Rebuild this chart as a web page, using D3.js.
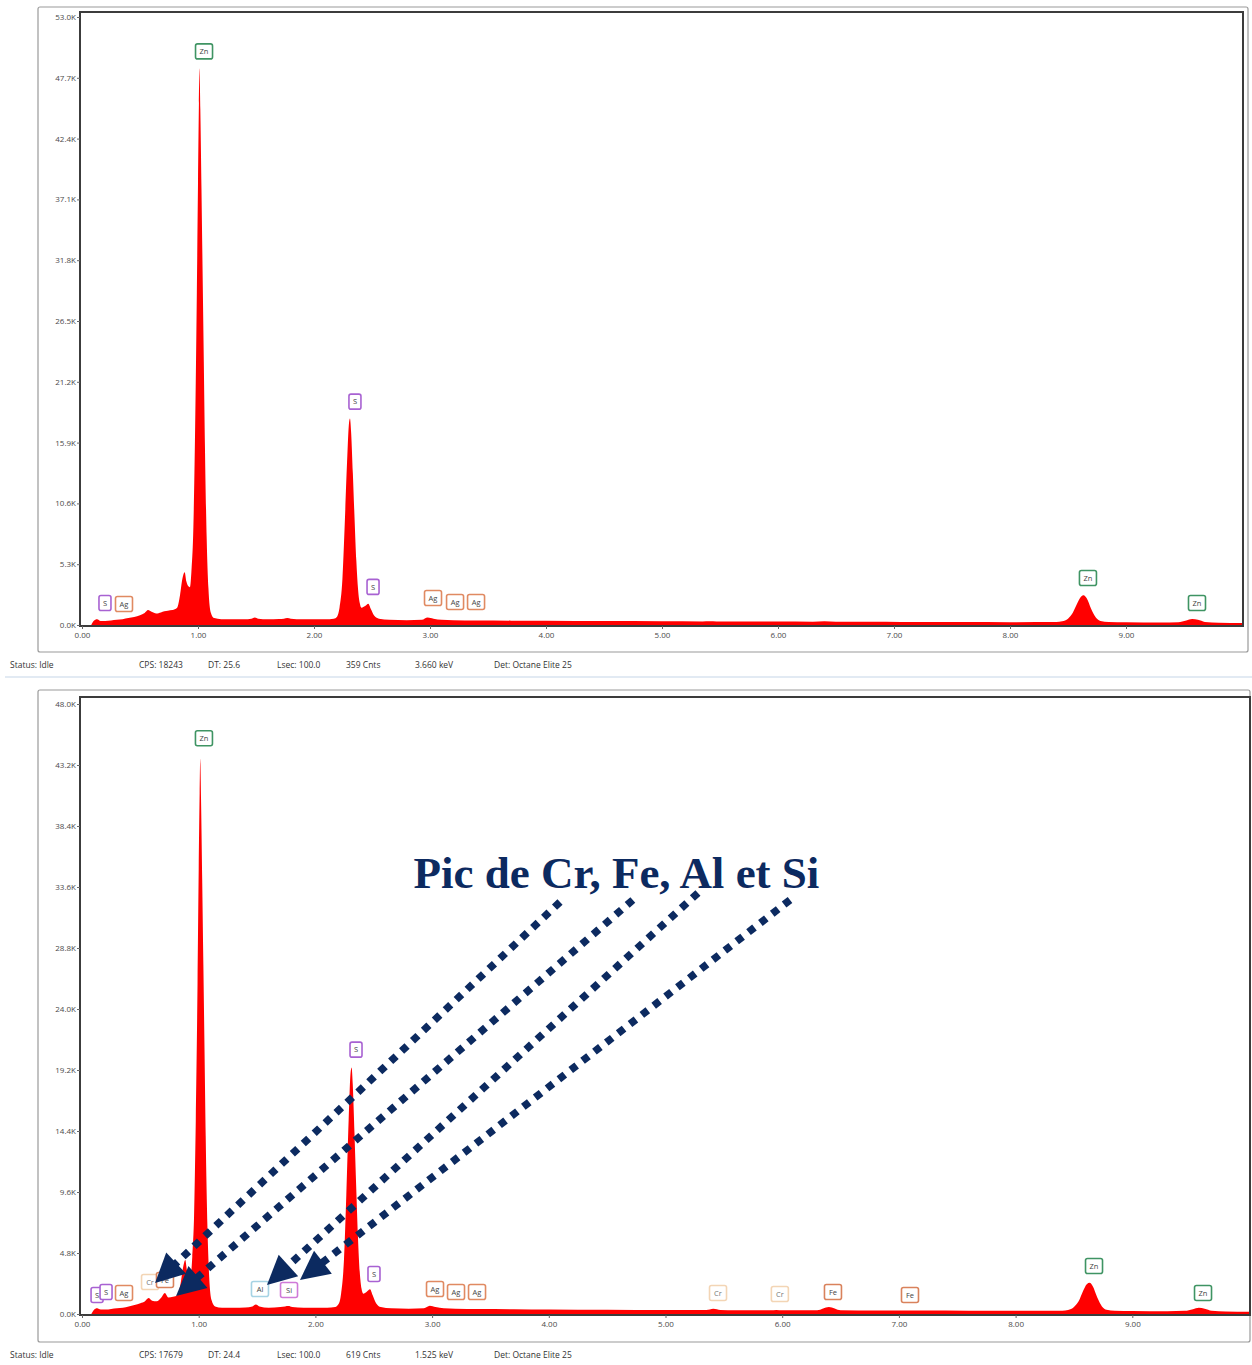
<!DOCTYPE html>
<html><head><meta charset="utf-8">
<script src="https://cdn.jsdelivr.net/npm/d3@7"></script>
<style>body{margin:0;background:#fff} svg text{font-family:"Open Sans","DejaVu Sans",sans-serif}</style>
</head><body><svg id="c" width="1252" height="1365"></svg>
<script>
// ---- DATA ----
const energies = [0.08,0.10,0.13,0.16,0.20,0.25,0.30,0.35,0.40,0.45,0.50,0.54,0.57,0.60,0.64,0.68,0.71,0.74,0.78,0.82,
0.845,0.865,0.885,0.90,0.915,0.93,0.945,0.96,0.975,0.99,1.00,1.008,1.013,1.02,1.03,1.04,1.05,1.06,1.075,1.09,
1.11,1.14,1.20,1.30,1.40,1.46,1.49,1.52,1.60,1.70,1.74,1.77,1.80,1.90,2.00,2.10,2.17,2.20,2.22,2.245,
2.265,2.285,2.30,2.31,2.32,2.335,2.35,2.365,2.38,2.395,2.41,2.44,2.468,2.49,2.52,2.56,2.65,2.80,2.93,2.98,
3.03,3.10,3.20,3.40,3.70,4.00,4.50,5.00,5.35,5.41,5.47,5.60,5.90,5.95,6.00,6.30,6.40,6.50,6.80,7.06,
7.20,7.60,8.00,8.40,8.45,8.50,8.54,8.58,8.61,8.635,8.66,8.70,8.74,8.78,8.85,9.00,9.30,9.45,9.52,9.57,
9.62,9.68,9.80,10.00];
const countsTop = [0,0.35,0.5,0.35,0.35,0.4,0.45,0.5,0.6,0.7,0.85,1.05,1.3,1.15,1.0,1.1,1.2,1.25,1.3,1.5,
2.6,4.0,4.6,3.8,3.4,3.3,5.0,8.5,17,29,38.5,45.5,48.5,45,38,30.5,23,15.5,7.5,3.2,
1.1,0.6,0.5,0.5,0.5,0.55,0.65,0.55,0.5,0.52,0.55,0.6,0.55,0.5,0.5,0.5,0.55,0.75,1.5,4.0,
8.8,14.2,17.4,18.0,16.8,13.2,9.2,5.6,3.1,1.9,1.5,1.65,1.85,1.4,0.8,0.55,0.45,0.42,0.45,0.65,
0.55,0.45,0.42,0.4,0.38,0.36,0.34,0.32,0.31,0.33,0.31,0.3,0.3,0.3,0.3,0.29,0.33,0.29,0.28,0.27,
0.27,0.26,0.25,0.26,0.32,0.55,1.05,1.9,2.45,2.6,2.35,1.4,0.65,0.35,0.26,0.24,0.22,0.25,0.4,0.52,
0.45,0.27,0.2,0.18];
const countsBottom = [0,0.3,0.45,0.35,0.35,0.4,0.45,0.5,0.6,0.7,0.85,1.0,1.25,1.05,1.0,1.3,1.65,1.3,1.35,1.5,
2.4,3.6,4.25,3.4,3.0,2.9,4.5,7.6,15.2,26,35,41,43.7,40.5,34.2,27.5,20.7,14,6.8,2.9,
1.1,0.6,0.5,0.5,0.52,0.6,0.75,0.6,0.5,0.55,0.6,0.62,0.55,0.5,0.5,0.5,0.55,0.8,1.6,4.3,
9.4,15.3,18.8,19.4,18.1,14.2,9.9,6.0,3.3,2.0,1.6,1.75,1.95,1.5,0.85,0.55,0.45,0.42,0.45,0.65,
0.55,0.45,0.42,0.4,0.38,0.36,0.34,0.32,0.32,0.42,0.32,0.3,0.3,0.32,0.3,0.3,0.55,0.3,0.28,0.28,
0.27,0.26,0.25,0.26,0.32,0.55,1.0,1.85,2.35,2.45,2.2,1.3,0.6,0.33,0.26,0.24,0.22,0.25,0.38,0.5,
0.42,0.26,0.2,0.18];
const xTicks = [0,1,2,3,4,5,6,7,8,9];
const yTicksTop = [0,5.3,10.6,15.9,21.2,26.5,31.8,37.1,42.4,47.7,53.0];
const yTicksBottom = [0,4.8,9.6,14.4,19.2,24.0,28.8,33.6,38.4,43.2,48.0];
// peak labels: element, energy (keV), height (K counts)
const labelsTopEl = ["Zn","S","S","S","Ag","Ag","Ag","Ag","Zn","Zn"];
const labelsTopE  = [1.052,2.353,2.509,0.198,0.362,3.026,3.216,3.397,8.672,9.612];
const labelsTopK  = [50.0,19.47,3.32,1.92,1.83,2.36,2.01,2.01,4.10,1.92];
const labelsBotEl = ["Zn","S","S","S","S","Ag","Cr","Fe","Al","Si","Ag","Ag","Ag","Cr","Cr","Fe","Fe","Zn","Zn"];
const labelsBotE  = [1.045,2.348,2.502,0.129,0.206,0.36,0.583,0.711,1.525,1.774,3.025,3.205,3.385,5.45,5.98,6.435,7.095,8.672,9.606];
const labelsBotK  = [45.3,20.8,3.15,1.5,1.73,1.65,2.52,2.68,1.97,1.89,1.97,1.73,1.73,1.65,1.57,1.73,1.5,3.78,1.65];
const statusTop = ["Status: Idle","CPS: 18243","DT: 25.6","Lsec: 100.0","359 Cnts","3.660 keV","Det: Octane Elite 25"];
const statusBottom = ["Status: Idle","CPS: 17679","DT: 24.4","Lsec: 100.0","619 Cnts","1.525 keV","Det: Octane Elite 25"];
const annotationText = "Pic de Cr, Fe, Al et Si";
// dotted arrows in bottom-chart data units: start (keV, K) -> tip (keV, K)
const arrowStartE = [4.096,4.72,5.278,6.067];
const arrowStartK = [32.42,32.58,33.13,32.58];
const arrowTipE   = [0.626,0.806,1.585,1.868];
const arrowTipK   = [2.44,1.42,2.28,2.68];

// ---- STYLE ----
const elColor = {Zn:"#3f9463",S:"#a862d2",Ag:"#e08a62",Cr:"#f3d5b5",Fe:"#d9825c",Al:"#a6d3e4",Si:"#cf7ad8"};
const navy = "#0c2a60";
const svg = d3.select("#c");

function panel(cfg){
  const g = svg.append("g");
  g.append("rect").attr("x",cfg.frame[0]).attr("y",cfg.frame[1]).attr("width",cfg.frame[2]).attr("height",cfg.frame[3])
    .attr("rx",2).attr("fill","#fff").attr("stroke","#9a9a9a").attr("stroke-width",1.2);
  const x = d3.scaleLinear().domain([0,10]).range([82,cfg.xRight]);
  const y = d3.scaleLinear().domain([0,cfg.yMax]).range([cfg.yZero,cfg.yTop]);
  const clipId = "clip"+cfg.id;
  g.append("clipPath").attr("id",clipId).append("rect")
    .attr("x",cfg.box[0]).attr("y",cfg.box[1]).attr("width",cfg.box[2]-cfg.box[0]).attr("height",cfg.box[3]-cfg.box[1]);
  const data = energies.map((e,i)=>({e, k:cfg.counts[i]}));
  const area = d3.area().x(d=>x(d.e)).y0(y(0)).y1(d=>y(d.k)).curve(d3.curveMonotoneX);
  g.append("path").datum(data).attr("d",area).attr("fill","#ff0000").attr("clip-path",`url(#${clipId})`);
  g.append("rect").attr("x",cfg.box[0]).attr("y",cfg.box[1]).attr("width",cfg.box[2]-cfg.box[0]).attr("height",cfg.box[3]-cfg.box[1])
    .attr("fill","none").attr("stroke","#3c3c3c").attr("stroke-width",2);
  const ya = g.append("g").attr("transform",`translate(${cfg.box[0]},0)`)
    .call(d3.axisLeft(y).tickValues(cfg.yTicks).tickFormat(d=>d.toFixed(1)+"K").tickSize(3).tickPadding(1));
  ya.select(".domain").remove();
  ya.selectAll("text").attr("font-size",8).attr("fill","#4a4a4a").attr("font-family","Open Sans, sans-serif");
  ya.selectAll("line").attr("stroke","#666");
  const xa = g.append("g").attr("transform",`translate(0,${cfg.box[3]})`)
    .call(d3.axisBottom(x).tickValues(xTicks).tickFormat(d=>d.toFixed(2)).tickSize(3).tickPadding(3));
  xa.select(".domain").remove();
  xa.selectAll("text").attr("font-size",8).attr("fill","#4a4a4a").attr("font-family","Open Sans, sans-serif");
  xa.selectAll("line").attr("stroke","#666");
  const lab = g.append("g").selectAll("g").data(cfg.labEl.map((el,i)=>({el,e:cfg.labE[i],k:cfg.labK[i]})))
    .join("g").attr("transform",d=>`translate(${x(d.e)},${y(d.k)})`);
  lab.append("rect").attr("x",d=>-(d.el.length>1?8.5:6)).attr("y",-7.5).attr("width",d=>d.el.length>1?17:12).attr("height",15)
    .attr("rx",2).attr("fill","#fff").attr("stroke",d=>elColor[d.el]).attr("stroke-width",1.6);
  lab.append("text").attr("text-anchor","middle").attr("dy","0.35em").attr("font-size",7.5)
    .attr("fill",d=>d.el==="Cr"?"#777":"#444").text(d=>d.el);
  const sx = [10,139,208,277,346,415,494];
  g.append("g").selectAll("text").data(cfg.status).join("text")
    .attr("x",(d,i)=>sx[i]).attr("y",cfg.statusY).attr("font-size",8.5).attr("fill","#333").text(d=>d);
  g.append("line").attr("x1",5).attr("x2",1252).attr("y1",cfg.statusY+9).attr("y2",cfg.statusY+9)
    .attr("stroke","#e2eaf3").attr("stroke-width",2);
  return {g,x,y};
}

panel({id:"t",frame:[38,7,1210,645],xRight:1242,yMax:53,yZero:625,yTop:17,box:[80,12,1243,626],
  counts:countsTop,yTicks:yTicksTop,labEl:labelsTopEl,labE:labelsTopE,labK:labelsTopK,status:statusTop,statusY:668});
const pb = panel({id:"b",frame:[38,690,1212,652],xRight:1249,yMax:48,yZero:1314,yTop:704,box:[80,697,1250,1315],
  counts:countsBottom,yTicks:yTicksBottom,labEl:labelsBotEl,labE:labelsBotE,labK:labelsBotK,status:statusBottom,statusY:1358});

const ag = svg.append("g");
arrowStartE.forEach((se,i)=>{
  const x1=pb.x(se), y1=pb.y(arrowStartK[i]), x2=pb.x(arrowTipE[i]), y2=pb.y(arrowTipK[i]);
  const dx=x2-x1, dy=y2-y1, L=Math.hypot(dx,dy), ux=dx/L, uy=dy/L;
  const hl=29, hw=14.5;
  const bx=x2-ux*hl, by=y2-uy*hl;
  ag.append("line").attr("x1",x1).attr("y1",y1).attr("x2",bx+ux*2).attr("y2",by+uy*2)
    .attr("stroke",navy).attr("stroke-width",7.5).attr("stroke-dasharray","7.5,7.5");
  ag.append("polygon").attr("points",[[x2,y2],[bx-uy*hw,by+ux*hw],[bx+uy*hw,by-ux*hw]].map(p=>p.join(",")).join(" "))
    .attr("fill",navy);
});
svg.append("text").attr("x",pb.x(4.58)).attr("y",pb.y(33.5)).attr("text-anchor","middle")
  .attr("font-weight","bold").attr("font-size",45)
  .attr("fill",navy).style("font-family","'Liberation Serif','Times New Roman',serif").text(annotationText);
</script></body></html>
